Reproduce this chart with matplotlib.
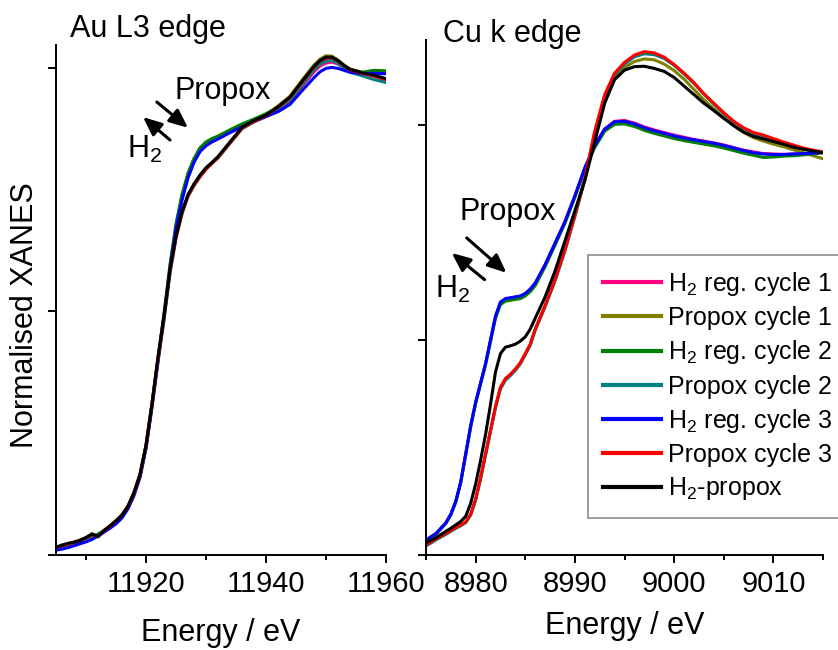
import numpy as np
import matplotlib.pyplot as plt
from matplotlib.ticker import MultipleLocator

plt.rcParams['font.family'] = ['Liberation Sans', 'DejaVu Sans']
plt.rcParams['mathtext.default'] = 'regular'

# series names and colours (same order for both edges)
labels = ['H$_2$ reg. cycle 1', 'Propox cycle 1', 'H$_2$ reg. cycle 2',
          'Propox cycle 2', 'H$_2$ reg. cycle 3', 'Propox cycle 3', 'H$_2$-propox']
colors = ['#ff0080', '#808000', '#008000', '#008080', '#0000ff', '#ff0000', '#000000']

# ---- Au L3 edge ----
au_E = [11905, 11906, 11907, 11908, 11909, 11910, 11911, 11912, 11913, 11914, 11915,
        11916, 11917, 11918, 11919, 11920, 11921, 11922, 11923, 11924, 11925, 11926,
        11927, 11928, 11929, 11930, 11931, 11932, 11934, 11936, 11938, 11940, 11942,
        11944, 11946, 11948, 11949, 11950, 11951, 11952, 11953, 11954, 11956, 11958, 11960]
au_h2_c1 = [0.012, 0.016, 0.019, 0.022, 0.026, 0.028, 0.033, 0.040, 0.048, 0.056, 0.066,
            0.078, 0.098, 0.126, 0.163, 0.222, 0.308, 0.402, 0.492, 0.592, 0.676, 0.736,
            0.782, 0.812, 0.834, 0.846, 0.853, 0.858, 0.871, 0.883, 0.893, 0.904, 0.916,
            0.931, 0.962, 0.992, 1.004, 1.010, 1.012, 1.008, 1.001, 0.995, 0.990, 0.992, 0.990]
au_prop_c1 = [0.016, 0.021, 0.023, 0.027, 0.031, 0.035, 0.044, 0.037, 0.051, 0.060, 0.071,
              0.083, 0.101, 0.129, 0.166, 0.226, 0.311, 0.404, 0.489, 0.584, 0.654, 0.703,
              0.738, 0.760, 0.778, 0.793, 0.805, 0.816, 0.846, 0.876, 0.891, 0.904, 0.922,
              0.942, 0.975, 1.006, 1.018, 1.025, 1.024, 1.016, 1.006, 0.998, 0.991, 0.984, 0.975]
au_h2_c2 = [0.014, 0.018, 0.020, 0.024, 0.027, 0.032, 0.038, 0.043, 0.050, 0.057, 0.067,
            0.080, 0.100, 0.128, 0.165, 0.225, 0.312, 0.406, 0.496, 0.596, 0.680, 0.740,
            0.784, 0.814, 0.836, 0.848, 0.855, 0.860, 0.873, 0.885, 0.895, 0.906, 0.919,
            0.935, 0.966, 0.996, 1.009, 1.015, 1.017, 1.011, 1.003, 0.996, 0.991, 0.995, 0.994]
au_prop_c2 = [0.015, 0.019, 0.022, 0.025, 0.029, 0.034, 0.040, 0.039, 0.049, 0.058, 0.068,
              0.080, 0.097, 0.124, 0.160, 0.219, 0.303, 0.396, 0.482, 0.578, 0.650, 0.700,
              0.736, 0.758, 0.776, 0.792, 0.804, 0.815, 0.845, 0.875, 0.889, 0.900, 0.916,
              0.935, 0.966, 0.997, 1.008, 1.014, 1.015, 1.009, 1.000, 0.991, 0.984, 0.976, 0.970]
au_h2_c3 = [0.010, 0.012, 0.015, 0.019, 0.023, 0.027, 0.032, 0.039, 0.047, 0.055, 0.064,
            0.076, 0.095, 0.122, 0.160, 0.219, 0.305, 0.399, 0.489, 0.588, 0.670, 0.728,
            0.774, 0.806, 0.828, 0.840, 0.848, 0.854, 0.867, 0.879, 0.890, 0.900, 0.910,
            0.925, 0.953, 0.980, 0.992, 0.999, 1.001, 0.999, 0.995, 0.991, 0.988, 0.989, 0.988]
au_prop_c3 = [0.015, 0.019, 0.022, 0.026, 0.030, 0.035, 0.042, 0.038, 0.050, 0.059, 0.070,
              0.082, 0.100, 0.127, 0.164, 0.224, 0.309, 0.402, 0.487, 0.582, 0.652, 0.702,
              0.737, 0.759, 0.777, 0.792, 0.804, 0.816, 0.846, 0.876, 0.890, 0.902, 0.919,
              0.939, 0.971, 1.002, 1.014, 1.020, 1.021, 1.014, 1.004, 0.996, 0.989, 0.983, 0.976]
au_h2_prop = [0.016, 0.020, 0.024, 0.026, 0.030, 0.036, 0.043, 0.038, 0.050, 0.060, 0.070,
              0.082, 0.100, 0.128, 0.165, 0.225, 0.310, 0.405, 0.490, 0.585, 0.655, 0.705,
              0.740, 0.762, 0.780, 0.795, 0.806, 0.818, 0.848, 0.878, 0.892, 0.903, 0.920,
              0.940, 0.972, 1.003, 1.015, 1.022, 1.022, 1.015, 1.005, 0.997, 0.990, 0.985, 0.978]

# ---- Cu K edge ----
cu_E = [8975, 8976, 8977, 8977.5, 8978, 8978.5, 8979, 8979.5, 8980, 8980.5, 8981,
        8981.5, 8982, 8982.5, 8983, 8983.5, 8984, 8984.5, 8985, 8985.5, 8986, 8987,
        8988, 8989, 8990, 8991, 8992, 8993, 8994, 8995, 8996, 8997, 8998, 8999, 9000,
        9001, 9002, 9003, 9004, 9005, 9006, 9007, 9008, 9009, 9010, 9011, 9012, 9013,
        9014, 9015]
cu_h2_c1 = [0.034, 0.049, 0.074, 0.094, 0.124, 0.169, 0.234, 0.299, 0.354, 0.399, 0.444,
            0.499, 0.554, 0.587, 0.595, 0.597, 0.599, 0.601, 0.607, 0.617, 0.631, 0.674,
            0.724, 0.774, 0.834, 0.899, 0.951, 0.990, 1.008, 1.010, 1.004, 0.995, 0.988,
            0.982, 0.976, 0.971, 0.966, 0.962, 0.958, 0.953, 0.947, 0.941, 0.937, 0.933,
            0.932, 0.931, 0.932, 0.933, 0.934, 0.936]
cu_prop_c1 = [0.022, 0.036, 0.049, 0.056, 0.063, 0.069, 0.076, 0.094, 0.129, 0.179, 0.234,
              0.289, 0.344, 0.389, 0.409, 0.419, 0.431, 0.446, 0.467, 0.489, 0.524, 0.579,
              0.639, 0.709, 0.789, 0.874, 0.980, 1.062, 1.108, 1.133, 1.147, 1.153, 1.151,
              1.141, 1.126, 1.106, 1.082, 1.058, 1.037, 1.017, 0.998, 0.982, 0.970, 0.962,
              0.955, 0.949, 0.942, 0.935, 0.928, 0.921]
cu_h2_c2 = [0.033, 0.048, 0.073, 0.093, 0.123, 0.168, 0.233, 0.298, 0.352, 0.397, 0.442,
            0.496, 0.550, 0.582, 0.590, 0.592, 0.594, 0.596, 0.602, 0.612, 0.626, 0.670,
            0.720, 0.771, 0.831, 0.896, 0.947, 0.985, 1.001, 1.002, 0.996, 0.987, 0.980,
            0.974, 0.968, 0.963, 0.959, 0.955, 0.951, 0.946, 0.940, 0.934, 0.929, 0.924,
            0.925, 0.927, 0.928, 0.930, 0.932, 0.935]
cu_prop_c2 = [0.021, 0.035, 0.048, 0.055, 0.062, 0.068, 0.075, 0.093, 0.127, 0.177, 0.232,
              0.287, 0.342, 0.386, 0.406, 0.417, 0.429, 0.444, 0.465, 0.487, 0.522, 0.577,
              0.637, 0.707, 0.787, 0.872, 0.982, 1.066, 1.116, 1.141, 1.158, 1.165, 1.163,
              1.154, 1.138, 1.118, 1.096, 1.071, 1.048, 1.026, 1.007, 0.991, 0.979, 0.972,
              0.964, 0.957, 0.950, 0.944, 0.939, 0.935]
cu_h2_c3 = [0.035, 0.050, 0.075, 0.095, 0.125, 0.170, 0.235, 0.300, 0.355, 0.400, 0.445,
            0.500, 0.555, 0.588, 0.596, 0.598, 0.600, 0.602, 0.608, 0.618, 0.632, 0.675,
            0.725, 0.775, 0.835, 0.900, 0.952, 0.990, 1.007, 1.008, 1.002, 0.993, 0.986,
            0.980, 0.974, 0.969, 0.965, 0.961, 0.957, 0.952, 0.946, 0.940, 0.935, 0.932,
            0.931, 0.931, 0.932, 0.933, 0.934, 0.936]
cu_prop_c3 = [0.023, 0.037, 0.050, 0.057, 0.064, 0.070, 0.077, 0.095, 0.130, 0.180, 0.235,
              0.290, 0.345, 0.390, 0.410, 0.420, 0.432, 0.447, 0.468, 0.490, 0.525, 0.580,
              0.640, 0.710, 0.790, 0.875, 0.985, 1.070, 1.120, 1.145, 1.162, 1.170, 1.167,
              1.157, 1.140, 1.120, 1.098, 1.072, 1.050, 1.028, 1.008, 0.993, 0.982, 0.976,
              0.968, 0.960, 0.953, 0.946, 0.941, 0.937]
cu_h2_prop = [0.028, 0.040, 0.055, 0.062, 0.070, 0.078, 0.090, 0.120, 0.165, 0.220, 0.280,
              0.350, 0.425, 0.468, 0.483, 0.486, 0.490, 0.497, 0.507, 0.525, 0.550, 0.600,
              0.660, 0.730, 0.800, 0.870, 0.960, 1.050, 1.105, 1.127, 1.135, 1.136, 1.131,
              1.124, 1.110, 1.090, 1.070, 1.050, 1.033, 1.015, 0.998, 0.983, 0.973, 0.967,
              0.961, 0.955, 0.948, 0.943, 0.939, 0.935]

au_series = [au_h2_c1, au_prop_c1, au_h2_c2, au_prop_c2, au_h2_c3, au_prop_c3, au_h2_prop]
cu_series = [cu_h2_c1, cu_prop_c1, cu_h2_c2, cu_prop_c2, cu_h2_c3, cu_prop_c3, cu_h2_prop]

fig = plt.figure(figsize=(8.38, 6.5), dpi=100)
ax1 = fig.add_axes([56/838, 95/650, 330/838, 510/650])
ax2 = fig.add_axes([426/838, 95/650, 397/838, 515/650])

for y, c, lab in zip(au_series, colors, labels):
    ax1.plot(au_E, y, color=c, lw=2.2, label=lab)
for y, c, lab in zip(cu_series, colors, labels):
    ax2.plot(cu_E, y, color=c, lw=2.2, label=lab)

for ax in (ax1, ax2):
    for s in ('top', 'right'):
        ax.spines[s].set_visible(False)
    for s in ('left', 'bottom'):
        ax.spines[s].set_linewidth(1.4)
    ax.tick_params(which='both', direction='out', width=1.4, labelsize=21, pad=5)
    ax.tick_params(which='major', length=6)
    ax.tick_params(which='minor', length=3.5)
    ax.tick_params(axis='y', labelleft=False)
    ax.set_yticks([0, 0.5, 1.0])

ax1.set_xlim(11905, 11960)
ax1.set_ylim(0, 1.047)
ax1.xaxis.set_major_locator(MultipleLocator(20))
ax1.xaxis.set_minor_locator(MultipleLocator(10))
ax1.set_xlabel('Energy / eV', fontsize=22, labelpad=14)

ax2.set_xlim(8975, 9015)
ax2.set_ylim(0, 1.197)
ax2.xaxis.set_major_locator(MultipleLocator(10))
ax2.xaxis.set_minor_locator(MultipleLocator(5))
ax2.set_xlabel('Energy / eV', fontsize=22, labelpad=9)

fig.text(25/838, 1 - 315/650, 'Normalised XANES', rotation=90, fontsize=22,
         ha='center', va='center')

ax1.text(0.042, 1.016, 'Au L3 edge', transform=ax1.transAxes, fontsize=22,
         ha='left', va='baseline')
ax2.text(0.043, 0.996, 'Cu k edge', transform=ax2.transAxes, fontsize=22,
         ha='left', va='baseline')

# arrows and labels
arr = dict(arrowstyle='-|>,head_length=0.8,head_width=0.35', color='black', lw=2.2,
           mutation_scale=14, shrinkA=0, shrinkB=0)
ax1.text(11924.8, 0.936, 'Propox', fontsize=22, ha='left', va='baseline')
ax1.text(11916.8, 0.815, 'H$_2$', fontsize=22, ha='left', va='baseline')
ax1.annotate('', xy=(11927, 0.877), xytext=(11921.8, 0.930), arrowprops=arr)
ax1.annotate('', xy=(11919.5, 0.899), xytext=(11924, 0.852), arrowprops=arr)

ax2.text(8978.4, 0.779, 'Propox', fontsize=22, ha='left', va='baseline')
ax2.text(8975.9, 0.598, 'H$_2$', fontsize=22, ha='left', va='baseline')
ax2.annotate('', xy=(8983.1, 0.656), xytext=(8979.1, 0.737), arrowprops=arr)
ax2.annotate('', xy=(8977.6, 0.702), xytext=(8980.9, 0.640), arrowprops=arr)

leg = ax2.legend(loc='upper left', bbox_to_anchor=(588/838, 1 - 255/650),
                 bbox_transform=fig.transFigure, fontsize=18, frameon=True,
                 fancybox=False, handlelength=2.3, handletextpad=0.3,
                 labelspacing=0.33, borderpad=0.6, borderaxespad=0)
leg.get_frame().set_edgecolor('#707070')
leg.get_frame().set_linewidth(1.2)
for h in leg.get_lines():
    h.set_linewidth(3)

plt.savefig('out.png', dpi=100)
